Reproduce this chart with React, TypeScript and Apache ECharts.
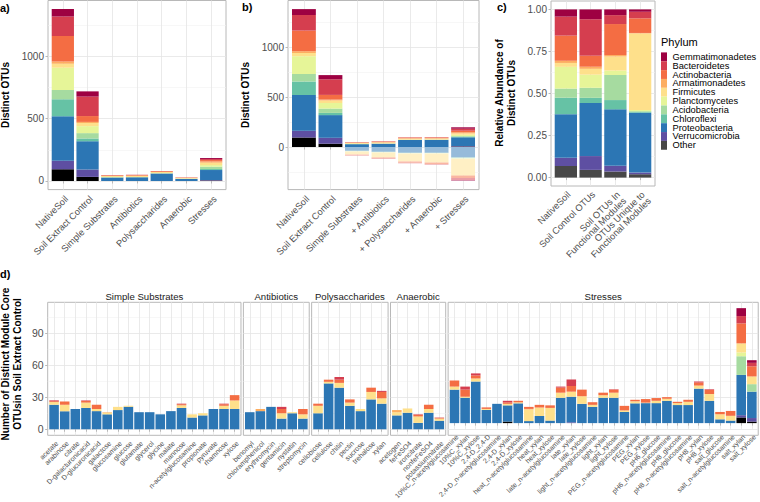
import React, { useEffect, useRef } from "react";
import * as echarts from "echarts";

// ---------- phyla, stack order bottom -> top ----------
const phyla = [
  "Other", "Verrucomicrobia", "Proteobacteria", "Chloroflexi", "Acidobacteria",
  "Planctomycetes", "Firmicutes", "Armatimonadetes", "Actinobacteria", "Bacteroidetes", "Gemmatimonadetes",
];
const phylumColors = [
  "#474747", "#5E4FA2", "#2C76B4", "#66C2A5", "#A6DBA0",
  "#E6F598", "#FEE08B", "#FDAE61", "#F46D43", "#D53E4F", "#9E0142",
];
const otherBarColor = "#000000";

// ---------- panel a (values per phylum, same order as phyla) ----------
const aCategories = ["NativeSoil", "Soil Extract Control", "Simple Substrates", "Antibiotics", "Polysaccharides", "Anaerobic", "Stresses"];
const aNativeSoil = [95, 67, 358, 135, 75, 178, 32, 18, 206, 156, 59];
const aSoilExtract = [33, 59, 227, 22, 43, 56, 25, 9, 47, 156, 42];
const aSimple = [0, 0, 28, 1, 1, 2, 8, 2, 4, 2, 0];
const aAntibiotics = [0, 0, 30, 0, 1, 1, 9, 2, 5, 2, 0];
const aPolysaccharides = [0, 0, 60, 1, 1, 1, 9, 1, 6, 1, 0];
const aAnaerobic = [0, 0, 17, 0, 1, 1, 5, 1, 3, 1, 0];
const aStresses = [4, 4, 80, 8, 19, 13, 19, 10, 11, 8, 8];

// ---------- panel b ----------
const bCategories = ["NativeSoil", "Soil Extract Control", "Simple Substrates", "+ Antibiotics", "+ Polysaccharides", "+ Anaerobic", "+ Stresses"];
const bGainedAntibiotics = [0, 0, 33, 0, 1, 2, 10, 3, 5, 3, 0];
const bGainedPolysaccharides = [0, 0, 70, 1, 1, 2, 11, 2, 7, 3, 0];
const bGainedAnaerobic = [0, 0, 71, 1, 1, 2, 11, 2, 7, 3, 0];
const bGainedStresses = [5, 5, 87, 6, 7, 13, 14, 10, 16, 20, 14];
const bLostSimple = [0, 0, -38, -2, -3, -2, -28, -4, -6, -4, 0];
const bLostAntibiotics = [0, 0, -48, -2, -3, -2, -45, -5, -10, -5, 0];
const bLostPolysaccharides = [0, 0, -58, -2, -3, -3, -75, -5, -12, -5, 0];
const bLostAnaerobic = [0, 0, -58, -2, -3, -3, -85, -6, -14, -6, 0];
const bLostStresses = [0, 0, -105, -4, -5, -4, -162, -8, -22, -22, -8];

// ---------- panel c (relative abundance) ----------
const cCategories = ["NativeSoil", "Soil Control OTUs", "Soil OTUs In\nFunctional Modules", "OTUs Unique to\nFunctional Modules"];
const cModuleOTUs = [0.036, 0.034, 0.336, 0.055, 0.149, 0.026, 0.084, 0.009, 0.184, 0.053, 0.034];
const cUniqueOTUs = [0.02, 0.01, 0.356, 0.004, 0.005, 0.007, 0.455, 0.003, 0.087, 0.039, 0.014];

// ---------- panel d ----------
const dFacets = ["Simple Substrates", "Antibiotics", "Polysaccharides", "Anaerobic", "Stresses"];
const dFacetSizes = [18, 6, 7, 5, 29];
const dCategories = [
  "acetate", "arabinose", "citrate", "D-galacturonicacid", "D-glucuronicacid", "galactose", "glucosamine", "glucose",
  "glutamate", "glycerol", "glycine", "malate", "mannose", "n-acetylglucosamine", "propionate", "pyruvate", "rhamnose", "xylose",
  "benomyl", "chloramphenicol", "erythromycin", "gentamicin", "nystatin", "streptomycin",
  "cellobiose", "cellulose", "chitin", "pectin", "sucrose", "trehalose", "xylan",
  "acetogen", "feFeSO4", "ironcitrate", "nonfeFeSO4", "potassiumnitrate",
  "10%C_n-acetylglucosamine", "10%C_xylan", "10%C_xylose", "2,4-D_2,4-D", "2,4-D_n-acetylglucosamine", "2,4-D_xylan", "2,4-D_xylose",
  "heat_n-acetylglucosamine", "heat_xylan", "heat_xylose", "late_n-acetylglucosamine", "late_xylan", "late_xylose",
  "light_n-acetylglucosamine", "light_xylan", "light_xylose", "PEG_n-acetylglucosamine", "PEG_xylan", "PEG_xylose",
  "pH6_glucose", "pH6_n-acetylglucosamine", "pH8_glucose", "pH8_n-acetylglucosamine", "pH8_xylan", "pH8_xylose",
  "salt_glucose", "salt_n-acetylglucosamine", "salt_xylan", "salt_xylose",
];
const dProteobacteria = [
  23, 17, 19, 20, 17, 14, 18, 21, 16, 16, 14, 17, 20, 11, 13, 19, 19, 19,
  16, 17, 21, 10, 15, 10,
  15, 43, 39, 22, 17, 28, 24,
  13, 15.5, 6, 15.5, 8,
  33, 25, 41, 13, 19, 16, 19.5, 2, 7, 2.5, 25, 25.2, 19, 16, 25, 25, 11, 19.5, 19.7, 19.7, 22, 17.8, 17.8, 34, 22, 3.75, 2.5, 39.7, 26,
];
const dFirmicutes = [
  2.5, 6, 0, 5, 2, 1.5, 3, 1, 0, 0, 0, 0, 2.5, 3, 2, 0, 3, 8,
  0, 0, 0, 5, 1, 4,
  7, 1.5, 4.5, 3, 2, 7, 5,
  3, 4, 6, 3.5, 2,
  3, 1, 3, 1, 0, 1.5, 1, 11.5, 8, 12.5, 5, 5, 7.5, 2, 2.5, 5, 1.5, 2, 0.5, 2.3, 2, 1.9, 3.2, 3, 6.7, 5, 4.7, 9, 7.6,
];
const dActinobacteria = [
  0.8, 3, 0, 1.5, 4, 0, 0, 0, 0, 0, 0, 0, 1, 0, 0, 0, 1.5, 5,
  0, 0, 0, 4, 0, 5,
  2, 2, 3, 3, 0, 4, 6,
  0, 0, 1.5, 4, 0.7,
  6, 7, 3, 1.5, 0, 1.5, 1.5, 2, 2.5, 2.5, 5, 5.6, 6.5, 2.6, 2.5, 3, 4.5, 1.5, 3.5, 2.7, 1.6, 1.3, 2, 3, 4.1, 2.25, 4.8, 19.7, 10,
];
const dBacteroidetes = [
  0.8, 0, 0, 0.5, 0, 0, 0, 0, 0, 0, 0, 0, 0.5, 0, 0, 0, 0.5, 0,
  0, 0, 0, 2, 0, 0,
  0, 0, 2.5, 0, 0, 0, 1,
  0, 0, 0.5, 0, 0.3,
  0, 3, 2, 0, 0, 1.5, 0, 0, 0, 0, 1, 6.4, 0, 0, 0, 0.4, 0, 0, 0, 0, 0, 0, 0, 1, 0.6, 0, 0, 7.2, 3.4,
];
// sparse phyla in panel d: [condition, count]
const dArmatimonadetes: [string, number][] = [["galactose", 0.5], ["chloramphenicol", 2], ["acetogen", 2], ["heat_n-acetylglucosamine", 0.5], ["heat_xylan", 0.5]];
const dOther: [string, number][] = [["2,4-D_xylan", 1.5], ["salt_xylan", 5.6], ["salt_xylose", 1.5]];
const dVerrucomicrobia: [string, number][] = [["late_xylan", 0.8], ["salt_xylan", 2.2], ["salt_xylose", 3.5]];
const dAcidobacteria: [string, number][] = [["salt_xylan", 18.4], ["salt_xylose", 7.4]];
const dPlanctomycetes: [string, number][] = [["salt_xylan", 3.7]];
const dGemmatimonadetes: [string, number][] = [["salt_xylan", 7.8], ["salt_xylose", 2.6]];
const dChloroflexi: [string, number][] = [];

// ---------- axis ticks ----------
const aTicks = [0, 500, 1000];
const aMinor = [250, 750, 1250];
const bTicks = [0, 500, 1000];
const bMinor = [-250, 250, 750, 1250];
const cTicks = [0, 0.25, 0.5, 0.75, 1];
const cMinor = [0.125, 0.375, 0.625, 0.875];
const dTicks = [0, 30, 60, 90];
const dMinor = [15, 45, 75, 105];

// ---------- styles ----------
const FONT = "'Liberation Sans', Arial, Helvetica, sans-serif";
const AXIS_TEXT = "#4D4D4D";
const BORDER = "#B8B8B8";
const GRID_MAJOR = "#E4E4E4";
const GRID_MINOR = "#F2F2F2";

function lighten(hex: string, t: number) {
  const n = parseInt(hex.slice(1), 16);
  const r = (n >> 16) & 255, g = (n >> 8) & 255, b = n & 255;
  const m = (c: number) => Math.round(c + (255 - c) * t);
  return "#" + [m(r), m(g), m(b)].map((c) => c.toString(16).padStart(2, "0")).join("");
}

function sparseToDense(list: [string, number][]) {
  const out = dCategories.map(() => 0);
  list.forEach(([name, v]) => { out[dCategories.indexOf(name)] = v; });
  return out;
}

type Rect = { left: number; top: number; width: number; height: number };

export default function App() {
  const ref = useRef<HTMLDivElement>(null);

  useEffect(() => {
    if (!ref.current) return;
    const chart = echarts.init(ref.current, null, { renderer: "svg" });

    const grid: any[] = [];
    const xAxis: any[] = [];
    const yAxis: any[] = [];
    const series: any[] = [];
    const graphic: any[] = [];

    function addPanel(
      rect: Rect, names: string[], yMin: number, yMax: number, major: number[], minor: number[],
      yFmt: ((v: number) => string) | null, xFont: number, xLineHeight: number, yFont: number,
    ) {
      const n = names.length;
      const u = rect.width / (n + 0.2);
      // outer grid: panel border + horizontal grid lines + y labels
      const go = grid.length;
      grid.push({ ...rect, show: true, borderColor: BORDER, borderWidth: 1, backgroundColor: "#ffffff" });
      xAxis.push({ type: "value", gridIndex: go, min: 0, max: 1, show: false });
      yAxis.push({
        type: "value", gridIndex: go, min: yMin, max: yMax, position: "left",
        axisLine: { show: false },
        axisTick: { show: !!yFmt, customValues: major, length: 2.5, lineStyle: { color: BORDER, width: 1 } },
        axisLabel: {
          show: !!yFmt, customValues: major, formatter: yFmt || ((v: number) => String(v)),
          fontSize: yFont, color: AXIS_TEXT, fontFamily: FONT, margin: 4,
        },
        splitLine: { show: true, lineStyle: { color: GRID_MAJOR, width: 0.8 } },
      });
      yAxis.push({
        type: "value", gridIndex: go, min: yMin, max: yMax, position: "right",
        axisLine: { show: false },
        axisTick: { show: false, customValues: minor },
        axisLabel: { show: false },
        splitLine: { show: true, lineStyle: { color: GRID_MINOR, width: 0.6 } },
      });
      // inner grid: category bands (ggplot keeps 0.6 band of padding at each end)
      const gi = grid.length;
      grid.push({ left: rect.left + 0.1 * u, top: rect.top, width: n * u, height: rect.height, show: false });
      const xi = xAxis.length;
      xAxis.push({
        type: "category", gridIndex: gi, data: names, boundaryGap: true,
        axisLine: { show: false },
        axisTick: { show: true, alignWithLabel: true, interval: 0, length: 2.5, lineStyle: { color: BORDER, width: 1 } },
        axisLabel: {
          interval: 0, rotate: 45, align: "right", verticalAlign: "top", margin: 4,
          fontSize: xFont, lineHeight: xLineHeight, color: AXIS_TEXT, fontFamily: FONT,
        },
        splitLine: { show: true, alignWithLabel: true, interval: 0, lineStyle: { color: GRID_MAJOR, width: 0.8 } },
      });
      const yi = yAxis.length;
      yAxis.push({ type: "value", gridIndex: gi, min: yMin, max: yMax, show: false, splitLine: { show: false } });
      return { xi, yi };
    }

    function addStack(p: { xi: number; yi: number }, stack: string, rows: number[][], colors: string[]) {
      phyla.forEach((name, k) => {
        series.push({
          name, type: "bar", stack, xAxisIndex: p.xi, yAxisIndex: p.yi, barWidth: "90%",
          silent: true, itemStyle: { color: colors[k] },
          data: rows.map((row) => row[k]),
        });
      });
    }

    const barColors = phylumColors.map((c, k) => (k === 0 ? otherBarColor : c));
    const lostColors = phylumColors.map((c) => lighten(c, 0.5));

    // ----- a -----
    const pa = addPanel({ left: 48, top: 0.5, width: 178, height: 189.1 }, aCategories, -69, 1448, aTicks, aMinor,
      (v) => String(v), 9.3, 11, 10);
    addStack(pa, "a", [aNativeSoil, aSoilExtract, aSimple, aAntibiotics, aPolysaccharides, aAnaerobic, aStresses], barColors);

    // ----- b -----
    const pb = addPanel({ left: 288, top: 0.5, width: 191, height: 189.1 }, bCategories, -426, 1465, bTicks, bMinor,
      (v) => String(v), 9.3, 11, 10);
    const zero = phyla.map(() => 0);
    addStack(pb, "b", [aNativeSoil, aSoilExtract, aSimple, bGainedAntibiotics, bGainedPolysaccharides, bGainedAnaerobic, bGainedStresses], barColors);
    addStack(pb, "b", [zero, zero, bLostSimple, bLostAntibiotics, bLostPolysaccharides, bLostAnaerobic, bLostStresses], lostColors);

    // ----- c -----
    const norm = (row: number[]) => { const s = row.reduce((x, y) => x + y, 0); return row.map((v) => v / s); };
    const pc = addPanel({ left: 551, top: 1, width: 104, height: 185 }, cCategories, -0.05, 1.05, cTicks, cMinor,
      (v) => v.toFixed(2), 9.3, 8.8, 10);
    addStack(pc, "c", [norm(aNativeSoil), norm(aSoilExtract), cModuleOTUs, cUniqueOTUs], phylumColors);

    // ----- d -----
    const dRows: number[][] = [
      sparseToDense(dOther), sparseToDense(dVerrucomicrobia), dProteobacteria, sparseToDense(dChloroflexi),
      sparseToDense(dAcidobacteria), sparseToDense(dPlanctomycetes), dFirmicutes, sparseToDense(dArmatimonadetes),
      dActinobacteria, dBacteroidetes, sparseToDense(dGemmatimonadetes),
    ];
    const unit = 10.62, gap = 2.4;
    let left = 47.7, start = 0;
    dFacets.forEach((facet, f) => {
      const n = dFacetSizes[f];
      const width = (n + 0.2) * unit;
      const names = dCategories.slice(start, start + n);
      const p = addPanel({ left, top: 302.3, width, height: 133 }, names, -5.67, 119.07, dTicks, dMinor,
        f === 0 ? (v) => String(v) : null, 7, 8, 10.5);
      const rows = names.map((_, i) => dRows.map((arr) => arr[start + i]));
      addStack(p, "d" + f, rows, barColors);
      graphic.push({
        type: "text", x: left + width / 2, y: 296,
        style: { text: facet, fontSize: 9.6, fill: "#1A1A1A", fontFamily: FONT, textAlign: "center", align: "center", textVerticalAlign: "middle", verticalAlign: "middle" },
      });
      left += width + gap;
      start += n;
    });

    // ----- panel letters & axis titles -----
    const txt = (text: string, x: number, y: number, size: number, bold: boolean, rot = 0, lh = 12) => ({
      type: "text", x, y, rotation: rot,
      style: {
        text, fontSize: size, fontWeight: bold ? "bold" : "normal", fill: "#000000", fontFamily: FONT, lineHeight: lh,
        textAlign: rot ? "center" : "left", align: rot ? "center" : "left", textVerticalAlign: "middle", verticalAlign: "middle",
      },
    });
    graphic.push(txt("a)", 0, 7.5, 11, true));
    graphic.push(txt("b)", 242, 6.7, 11, true));
    graphic.push(txt("c)", 497, 7, 11, true));
    graphic.push(txt("d)", 0, 274, 11, true));
    graphic.push(txt("Distinct OTUs", 5, 95, 10, true, Math.PI / 2));
    graphic.push(txt("Distinct OTUs", 245, 95, 10, true, Math.PI / 2));
    graphic.push(txt("Relative Abundance of\nDistinct OTUs", 505, 93, 10, true, Math.PI / 2));
    graphic.push(txt("Number of Distinct Module Core\nOTUsin Soil Extract Control", 11, 364, 10, true, Math.PI / 2));

    // ----- legend -----
    graphic.push({
      type: "text", x: 661, y: 42,
      style: { text: "Phylum", fontSize: 11, fill: "#000000", fontFamily: FONT, textVerticalAlign: "middle", verticalAlign: "middle" },
    });
    const step = 8.85;
    phyla.slice().reverse().forEach((name, k) => {
      const col = phylumColors[phyla.length - 1 - k];
      graphic.push({ type: "rect", shape: { x: 661, y: 52.4 + k * step, width: 6, height: step }, style: { fill: col } });
      graphic.push({
        type: "text", x: 672.5, y: 52.4 + k * step + step / 2,
        style: { text: name, fontSize: 9.3, fill: "#000000", fontFamily: FONT, textVerticalAlign: "middle", verticalAlign: "middle" },
      });
    });

    chart.setOption({
      animation: false,
      backgroundColor: "#ffffff",
      textStyle: { fontFamily: FONT },
      grid, xAxis, yAxis, series, graphic,
    });

    return () => chart.dispose();
  }, []);

  return <div ref={ref} style={{ position: "absolute", left: 0, top: 0, width: 760, height: 502 }} />;
}
